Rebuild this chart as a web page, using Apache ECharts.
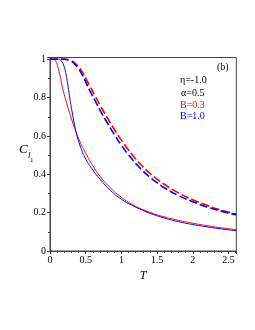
<!DOCTYPE html>
<html><head><meta charset="utf-8">
<script src="https://cdn.jsdelivr.net/npm/echarts@6/dist/echarts.min.js"></script>
<style>html,body{margin:0;padding:0;background:#fff}#c{width:255px;height:330px}</style>
</head><body><div id="c"></div>
<script>
const xTicks = [0, 0.5, 1, 1.5, 2, 2.5];
const yTicks = [0, 0.2, 0.4, 0.6, 0.8, 1];
const legendLines = ['η=-1.0', 'α=0.5', 'B=0.3', 'B=1.0'];
const panelLabel = '(b)';

const redSolid = [[0,1],[0.05,1],[0.08,0.99],[0.11,0.96],[0.14,0.915],[0.17,0.86],[0.2,0.815],[0.25,0.75],[0.3,0.69],[0.35,0.635],[0.42,0.57],[0.5,0.51],[0.6,0.445],[0.7,0.39],[0.85,0.328],[1.0,0.28],[1.15,0.243],[1.3,0.216],[1.45,0.195],[1.6,0.178],[1.8,0.16],[2.0,0.145],[2.2,0.132],[2.4,0.121],[2.61,0.111]];
const blueSolid = [[0,1],[0.12,1],[0.16,0.99],[0.19,0.97],[0.22,0.93],[0.25,0.865],[0.28,0.79],[0.31,0.725],[0.34,0.665],[0.38,0.6],[0.43,0.54],[0.5,0.48],[0.6,0.422],[0.7,0.375],[0.85,0.315],[1.0,0.27],[1.15,0.238],[1.3,0.212],[1.45,0.19],[1.6,0.172],[1.8,0.153],[2.0,0.138],[2.2,0.126],[2.4,0.115],[2.61,0.106]];
const redDashed = [[0,1],[0.2,1],[0.28,0.995],[0.34,0.982],[0.4,0.96],[0.45,0.935],[0.5,0.9],[0.56,0.86],[0.63,0.81],[0.7,0.762],[0.8,0.697],[0.9,0.635],[1.0,0.578],[1.1,0.527],[1.2,0.48],[1.3,0.44],[1.4,0.405],[1.5,0.375],[1.6,0.348],[1.8,0.303],[2.0,0.267],[2.2,0.238],[2.4,0.213],[2.61,0.192]];
const blueDashed = [[0,1],[0.2,1],[0.28,0.993],[0.34,0.977],[0.4,0.95],[0.45,0.92],[0.5,0.882],[0.56,0.835],[0.63,0.785],[0.7,0.735],[0.8,0.67],[0.9,0.608],[1.0,0.552],[1.1,0.502],[1.2,0.457],[1.3,0.418],[1.4,0.385],[1.5,0.356],[1.6,0.33],[1.8,0.289],[2.0,0.257],[2.2,0.23],[2.4,0.208],[2.61,0.189]];

const RED = '#ff0000', BLUE = '#0000ff';
const serif = 'Liberation Serif';
const chart = echarts.init(document.getElementById('c'), null, {renderer: 'canvas'});

function line(data, color, dashed) {
  return {
    type: 'line', data: data, showSymbol: false, smooth: 0.5,
    lineStyle: {color: color, width: dashed ? 1.6 : 1, type: dashed ? [8, 3] : 'solid'},
    animation: false, z: dashed ? 3 : 2
  };
}

chart.setOption({
  animation: false,
  grid: {left: 50, top: 57.5, right: 18.7, bottom: 79, show: true, borderColor: '#444', borderWidth: 1},
  xAxis: {
    type: 'value', min: xTicks[0], max: 2.61, interval: 0.5,
    name: 'T', nameLocation: 'middle', nameGap: 19,
    nameTextStyle: {fontFamily: serif, fontStyle: 'italic', fontSize: 12, color: '#000'},
    axisLine: {show: true, lineStyle: {color: '#444', width: 1}},
    axisTick: {show: true, length: 3, lineStyle: {color: '#444'}},
    minorTick: {show: true, splitNumber: 5, length: 2, lineStyle: {color: '#444'}},
    splitLine: {show: false},
    axisLabel: {fontFamily: serif, fontSize: 10, color: '#000', margin: 4, showMaxLabel: false,
      formatter: v => xTicks.includes(v) ? String(v) : ''}
  },
  yAxis: {
    type: 'value', min: yTicks[0], max: 1.009, interval: 0.2,
    axisLine: {show: true, lineStyle: {color: '#444', width: 1}},
    axisTick: {show: true, length: 3, lineStyle: {color: '#444'}},
    minorTick: {show: true, splitNumber: 2, length: 2, lineStyle: {color: '#444'}},
    splitLine: {show: false},
    axisLabel: {fontFamily: serif, fontSize: 10, color: '#000', margin: 4, showMaxLabel: true,
      formatter: v => { const t = yTicks.find(y => Math.abs(y - v) < 1e-6); return t === undefined ? '' : String(t); }}
  },
  series: [
    line(redSolid, RED, false),
    line(blueSolid, BLUE, false),
    line(redDashed, RED, true),
    line(blueDashed, BLUE, true)
  ],
  graphic: [
    {type: 'text', left: 19, top: 143, style: {text: 'C', font: 'italic 13px "Liberation Serif"', fill: '#000'}},
    {type: 'text', left: 28, top: 151, style: {text: 'l', font: 'italic 9px "Liberation Serif"', fill: '#000'}},
    {type: 'text', left: 30, top: 157, style: {text: '1', font: '7px "Liberation Serif"', fill: '#000'}},
    {type: 'text', left: 217, top: 62, style: {text: panelLabel, font: '10px "Liberation Serif"', fill: '#000'}},
    {type: 'text', left: 180, top: 75, style: {text: legendLines[0], font: '10px "Liberation Serif"', fill: '#000'}},
    {type: 'text', left: 181, top: 88, style: {text: legendLines[1], font: '10px "Liberation Serif"', fill: '#000'}},
    {type: 'text', left: 180, top: 100, style: {text: legendLines[2], font: '10px "Liberation Serif"', fill: RED}},
    {type: 'text', left: 180, top: 111, style: {text: legendLines[3], font: '10px "Liberation Serif"', fill: BLUE}}
  ]
});
</script></body></html>
